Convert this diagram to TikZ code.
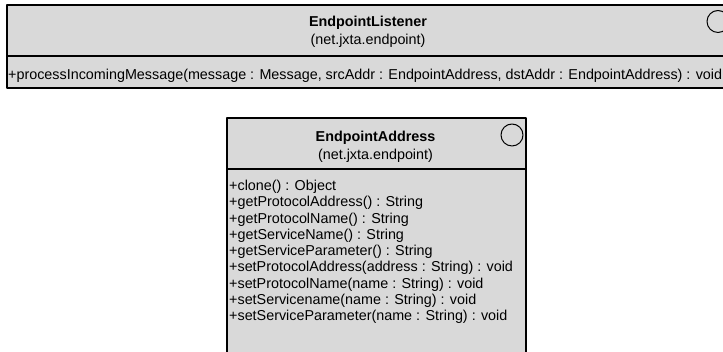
\documentclass[tikz,border=0pt]{standalone}
\usepackage{fontspec}
\setmainfont{Liberation Sans}
\definecolor{boxgray}{RGB}{217,217,217}
\newcommand\umlfont{\fontsize{14.35}{16.25}\selectfont}
\tikzset{
  classbox/.style={draw=black, line width=2pt, fill=boxgray, inner sep=0pt, anchor=north west},
  sepline/.style={line width=1.3pt},
  classname/.style={font=\umlfont\bfseries, inner sep=0pt, anchor=base},
  pkgname/.style={inner sep=0pt, anchor=base},
  opslist/.style={align=left, inner sep=0pt, anchor=base west},
  markcircle/.style={circle, draw=black, line width=1pt, inner sep=0pt}
}
\begin{document}
\begin{tikzpicture}[x=1pt,y=1pt, line join=round, font=\umlfont]
  \useasboundingbox (0,0) rectangle (723,352);
  \clip (0,0) rectangle (723,352);
  % EndpointListener
  \node[classbox, minimum width=725, minimum height=83] (listener) at (6,348) {};
  \draw[sepline] (listener.west |- 0,296) -- (listener.east |- 0,296);
  \node[classname] (listenername) at (368,325) {EndpointListener};
  \node[pkgname] (listenerpkg) at (368,307) {(net.jxta.endpoint)};
  \node[markcircle, minimum size=22] (listenermark) at (718,330.5) {};
  \node[opslist] (listenerops) at (8,272.3)
    {+processIncomingMessage(message : Message, srcAddr : EndpointAddress, dstAddr : EndpointAddress) : void};
  % EndpointAddress
  \node[classbox, minimum width=299, minimum height=300] (address) at (226,235) {};
  \draw[sepline] (address.west |- 0,183) -- (address.east |- 0,183);
  \node[classname] (addressname) at (375.5,210) {EndpointAddress};
  \node[pkgname] (addresspkg) at (375.5,192) {(net.jxta.endpoint)};
  \node[markcircle, minimum size=22] (addressmark) at (512,217) {};
  % base of a multi-line node is its last line
  \node[opslist] (addressops) at (229,31.3)
    {+clone() : Object\\
     +getProtocolAddress() : String\\
     +getProtocolName() : String\\
     +getServiceName() : String\\
     +getServiceParameter() : String\\
     +setProtocolAddress(address : String) : void\\
     +setProtocolName(name : String) : void\\
     +setServicename(name : String) : void\\
     +setServiceParameter(name : String) : void};
\end{tikzpicture}
\end{document}
